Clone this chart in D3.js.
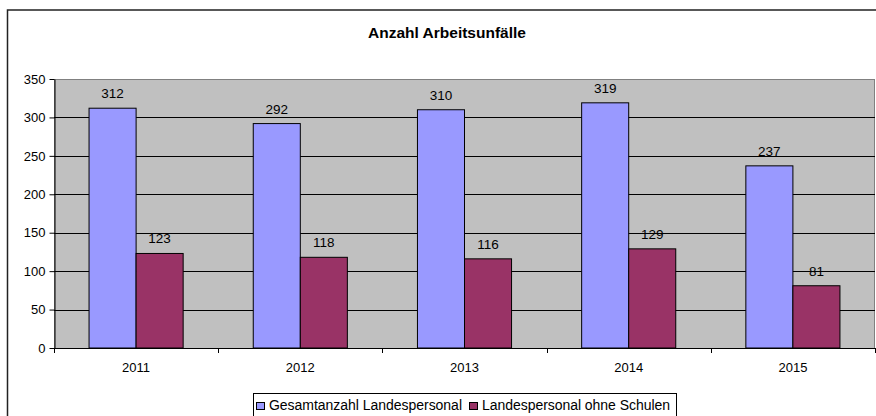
<!doctype html>
<html lang="de">
<head>
<meta charset="utf-8">
<script src="https://cdnjs.cloudflare.com/ajax/libs/d3/7.8.5/d3.min.js"></script>
<style>
  body { margin: 0; background: #fff; font-family: 'Liberation Sans', Arial, sans-serif; }
  .axis text { font-size: 13px; fill: #000; font-family: 'Liberation Sans', Arial, sans-serif; }
  .axis path, .axis line { stroke: #000; }
</style>
</head>
<body>
<script>
// Chart data
const years = ["2011", "2012", "2013", "2014", "2015"];
const seriesNames = ["Gesamtanzahl Landespersonal", "Landespersonal ohne Schulen"];
const gesamt = [312, 292, 310, 319, 237];
const ohneSchulen = [123, 118, 116, 129, 81];
const yTicks = [0, 50, 100, 150, 200, 250, 300, 350];
const colors = ["#9999ff", "#993366"];

const w = 876, h = 416;
const plotLeft = 54, plotRight = 875, plotTop = 79, plotBottom = 348;

const svg = d3.select("body").append("svg")
  .attr("width", w)
  .attr("height", h);

// outer frame
svg.append("rect")
  .attr("x", 7.5).attr("y", 10)
  .attr("width", w).attr("height", h)
  .attr("fill", "#fff")
  .attr("stroke", "#222")
  .attr("stroke-width", 1.5);

const x = d3.scaleBand().domain(years).range([plotLeft, plotRight]);
const x1 = d3.scaleBand().domain([0, 1]).range([0, x.bandwidth()]).paddingOuter(0.745).paddingInner(0);
const y = d3.scaleLinear().domain([0, 350]).range([plotBottom, plotTop]);

// plot area
svg.append("rect")
  .attr("x", plotLeft + 0.5).attr("y", plotTop + 0.5)
  .attr("width", plotRight - plotLeft - 1).attr("height", plotBottom - plotTop)
  .attr("fill", "#c0c0c0")
  .attr("stroke", "#808080");

// gridlines
svg.append("g")
  .selectAll("line")
  .data(yTicks.filter(d => d > 0 && d < 350))
  .join("line")
  .attr("x1", plotLeft).attr("x2", plotRight)
  .attr("y1", d => Math.round(y(d)) + 0.5)
  .attr("y2", d => Math.round(y(d)) + 0.5)
  .attr("stroke", "#000");

// bars
const rows = years.map((yr, i) => [gesamt[i], ohneSchulen[i]]);
const groups = svg.append("g")
  .selectAll("g")
  .data(rows)
  .join("g")
  .attr("transform", (d, i) => "translate(" + x(years[i]) + ",0)");

groups.selectAll("rect")
  .data(d => d)
  .join("rect")
  .attr("x", (d, j) => x1(j))
  .attr("y", d => y(d))
  .attr("width", x1.bandwidth())
  .attr("height", d => plotBottom - y(d))
  .attr("fill", (d, j) => colors[j])
  .attr("stroke", "#000")
  .attr("stroke-width", 1);

groups.selectAll("text")
  .data(d => d)
  .join("text")
  .attr("x", (d, j) => x1(j) + x1.bandwidth() / 2)
  .attr("y", d => y(d) - 10)
  .attr("text-anchor", "middle")
  .attr("font-size", 13.5)
  .text(d => d);

// axes
svg.append("g")
  .attr("class", "axis")
  .attr("transform", "translate(" + (plotLeft + 0.5) + ",0)")
  .call(d3.axisLeft(y).tickValues(yTicks).tickSize(5).tickPadding(4).tickSizeOuter(0));

svg.append("g")
  .attr("class", "axis")
  .attr("transform", "translate(0," + plotBottom + ")")
  .call(d3.axisBottom(x).tickSize(0).tickPadding(15))
  .call(g => g.select(".domain").remove());

// category separators on x axis
svg.append("g")
  .selectAll("line")
  .data(years.concat(["end"]))
  .join("line")
  .attr("x1", (d, i) => Math.round(plotLeft + i * x.bandwidth()) + 0.5)
  .attr("x2", (d, i) => Math.round(plotLeft + i * x.bandwidth()) + 0.5)
  .attr("y1", plotBottom)
  .attr("y2", plotBottom + 5)
  .attr("stroke", "#000");

svg.append("line")
  .attr("x1", plotLeft).attr("x2", plotRight)
  .attr("y1", plotBottom + 0.5).attr("y2", plotBottom + 0.5)
  .attr("stroke", "#000");

// title
svg.append("text")
  .attr("x", 447)
  .attr("y", 38)
  .attr("text-anchor", "middle")
  .attr("font-size", 15.5)
  .attr("font-weight", "bold")
  .text("Anzahl Arbeitsunfälle");

// legend
const legend = svg.append("g").attr("transform", "translate(253,393)");
legend.append("rect")
  .attr("x", 0.5).attr("y", 0.5)
  .attr("width", 423).attr("height", 30)
  .attr("fill", "#fff")
  .attr("stroke", "#000");

const items = legend.selectAll("g.item")
  .data(seriesNames)
  .join("g")
  .attr("class", "item")
  .attr("transform", (d, i) => "translate(" + (i === 0 ? 3 : 216) + ",0)");

items.append("rect")
  .attr("x", 0.5).attr("y", 9.5)
  .attr("width", 8).attr("height", 7)
  .attr("fill", (d, i) => colors[i])
  .attr("stroke", "#000");

items.append("text")
  .attr("x", 13)
  .attr("y", 17)
  .attr("font-size", 14)
  .attr("textLength", (d, i) => i === 0 ? 193 : 188)
  .text(d => d);
</script>
</body>
</html>
